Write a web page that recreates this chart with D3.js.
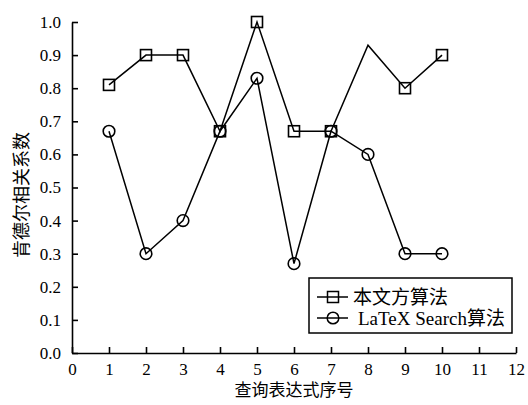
<!DOCTYPE html>
<html>
<head>
<meta charset="utf-8">
<script src="https://cdn.jsdelivr.net/npm/d3@7"></script>
<style>
  body { margin: 0; background: #fff; }
  text { fill: #000; }
</style>
</head>
<body>
<div id="chart"></div>
<script>
// 肯德尔相关系数对比: 本文方法 vs LaTeX Search
const queries = [1, 2, 3, 4, 5, 6, 7, 8, 9, 10];
const oursValues = [0.81, 0.90, 0.90, 0.67, 1.0, 0.67, 0.67, 0.93, 0.80, 0.90];
const oursMarked = [true, true, true, true, true, true, true, false, true, true];
const latexValues = [0.67, 0.30, 0.40, 0.67, 0.83, 0.27, 0.67, 0.60, 0.30, 0.30];
const xTicks = d3.range(0, 13);
const yTicks = d3.range(0, 11).map((d) => d / 10);
const seriesNames = ["本文方算法", "LaTeX Search算法"];

const FONT = "'Liberation Serif', 'Times New Roman', 'Noto Sans CJK SC', serif";
const W = 528, H = 405;
const margin = { top: 22, right: 12, bottom: 52, left: 72 };
const iw = W - margin.left - margin.right, ih = H - margin.top - margin.bottom;

const svg = d3.select("#chart").append("svg").attr("width", W).attr("height", H)
  .style("font-family", FONT);
const g = svg.append("g").attr("transform", `translate(${margin.left},${margin.top})`);

const x = d3.scaleLinear().domain([0, 12]).range([0, iw]);
const y = d3.scaleLinear().domain([0, 1]).range([ih, 0]);

const gx = g.append("g").attr("transform", `translate(0,${ih})`)
  .call(d3.axisBottom(x).tickValues(xTicks).tickFormat(d3.format("d")).tickSizeInner(-6).tickSizeOuter(0).tickPadding(10));
const gy = g.append("g")
  .call(d3.axisLeft(y).tickValues(yTicks).tickFormat(d3.format(".1f")).tickSizeInner(-6).tickSizeOuter(0).tickPadding(11));
[gx, gy].forEach((a) => {
  a.attr("font-family", null).attr("font-size", null);
  a.selectAll("path, line").attr("stroke", "#000").attr("stroke-width", 1.6);
  a.selectAll("text").style("font-family", FONT).style("font-size", "17px").attr("fill", "#000");
});

const line = d3.line().x((d) => x(d[0])).y((d) => y(d[1]));
const ours = queries.map((q, i) => [q, oursValues[i]]);
const latex = queries.map((q, i) => [q, latexValues[i]]);

g.append("path").attr("d", line(ours)).attr("fill", "none").attr("stroke", "#000").attr("stroke-width", 1.5);
g.append("path").attr("d", line(latex)).attr("fill", "none").attr("stroke", "#000").attr("stroke-width", 1.5);

const sq = 11;
g.append("g").selectAll("rect").data(ours.filter((d, i) => oursMarked[i])).join("rect")
  .attr("x", (d) => x(d[0]) - sq / 2).attr("y", (d) => y(d[1]) - sq / 2)
  .attr("width", sq).attr("height", sq)
  .attr("fill", "none").attr("stroke", "#000").attr("stroke-width", 1.6);
g.append("g").selectAll("circle").data(latex).join("circle")
  .attr("cx", (d) => x(d[0])).attr("cy", (d) => y(d[1])).attr("r", 5.8)
  .attr("fill", "none").attr("stroke", "#000").attr("stroke-width", 1.6);

// 图例
const lg = svg.append("g").attr("transform", "translate(309,278)");
lg.append("rect").attr("width", 203).attr("height", 55).attr("fill", "#fff").attr("stroke", "#000").attr("stroke-width", 1.5);
seriesNames.forEach((name, i) => {
  const cy = 19 + i * 21;
  lg.append("line").attr("x1", 8).attr("x2", 39).attr("y1", cy).attr("y2", cy).attr("stroke", "#000").attr("stroke-width", 1.5);
  if (i === 0) {
    lg.append("rect").attr("x", 24 - sq / 2).attr("y", cy - sq / 2).attr("width", sq).attr("height", sq)
      .attr("fill", "none").attr("stroke", "#000").attr("stroke-width", 1.5);
  } else {
    lg.append("circle").attr("cx", 24).attr("cy", cy).attr("r", 5.8)
      .attr("fill", "none").attr("stroke", "#000").attr("stroke-width", 1.5);
  }
  lg.append("text").attr("x", i === 0 ? 44 : 49).attr("y", cy + 7).style("font-size", "19px").text(name);
});

// 坐标轴标题
svg.append("text").attr("x", margin.left + iw / 2).attr("y", 396).attr("text-anchor", "middle")
  .style("font-size", "17px").text("查询表达式序号");
svg.append("text").attr("transform", `translate(22,195) rotate(-90)`).attr("text-anchor", "middle")
  .attr("dy", "0.35em").style("font-size", "18px").text("肯德尔相关系数");
</script>
</body>
</html>
